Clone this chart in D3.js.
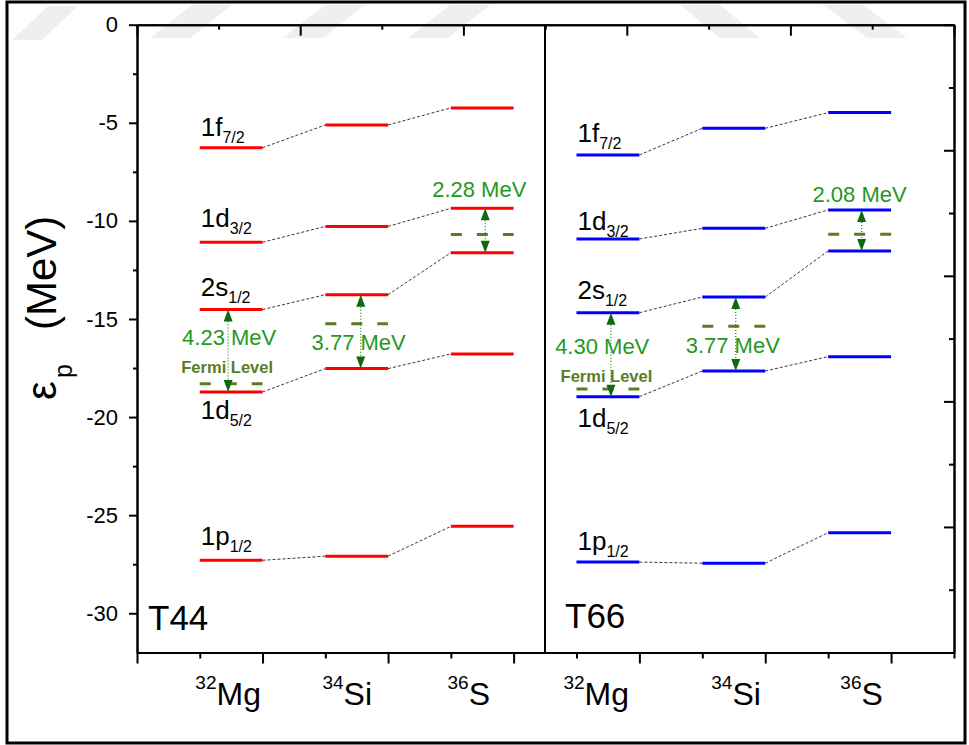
<!DOCTYPE html>
<html>
<head>
<meta charset="utf-8">
<script src="https://cdn.jsdelivr.net/npm/d3@7"></script>
<style>
  body { margin: 0; background: #fff; }
  svg { display: block; font-family: Arial, "Liberation Sans", sans-serif; }
</style>
</head>
<body>
<script>
// Data (MeV)
const massNumbers = [32, 34, 36];
const elements = ['Mg', 'Si', 'S'];
const orbitalNames = ['1f', '1d', '2s', '1d', '1p'];
const orbitalJ = ['7/2', '3/2', '1/2', '5/2', '1/2'];
const yTicks = [0, -5, -10, -15, -20, -25, -30];

// rows = orbitals, columns = nuclei
const t44Levels = [
  [-6.27, -5.11, -4.24],
  [-11.09, -10.28, -9.36],
  [-14.52, -13.76, -11.62],
  [-18.72, -17.53, -16.78],
  [-27.3, -27.09, -25.57],
];
const t44Fermi = [-18.3, -15.24, -10.7];
const t44Gaps = ['4.23', '3.77', '2.28'];

const t66Levels = [
  [-6.64, -5.28, -4.48],
  [-10.92, -10.38, -9.44],
  [-14.68, -13.88, -11.53],
  [-18.96, -17.65, -16.92],
  [-27.39, -27.45, -25.89],
];
const t66Fermi = [-18.57, -15.37, -10.68];
const t66Gaps = ['4.30', '3.77', '2.08'];

// Canvas
const width = 969;
const height = 745;
const svg = d3
  .select('body')
  .append('svg')
  .attr('width', width)
  .attr('height', height);

// faint watermark stripes at the top
const stripes = [
  [[48, 6], [78, 6], [42, 40], [12, 40]],
  [[192, 5], [232, 5], [190, 38], [150, 38]],
  [[325, 5], [365, 5], [323, 38], [283, 38]],
  [[450, 5], [490, 5], [448, 38], [408, 38]],
  [[680, 5], [720, 5], [760, 38], [720, 38]],
  [[823, 5], [863, 5], [907, 38], [867, 38]],
];
svg
  .append('g')
  .selectAll('polygon')
  .data(stripes)
  .enter()
  .append('polygon')
  .attr('points', (d) => d.map((p) => p.join(',')).join(' '))
  .attr('fill', '#efefef');

// outer frame
svg
  .append('rect')
  .attr('x', 7)
  .attr('y', 2)
  .attr('width', 958)
  .attr('height', 741)
  .attr('fill', 'none')
  .attr('stroke', '#000')
  .attr('stroke-width', 3);

const y = d3.scaleLinear().domain([0, -32]).range([24.7, 652.5]);

const panels = [
  {
    name: 'T44',
    levels: t44Levels,
    fermi: t44Fermi,
    gaps: t44Gaps,
    color: '#ff0000',
    x: d3.scaleLinear().domain([0, 6.5]).range([137, 545]),
    top: d3.scaleLinear().domain([0, 5]).range([137, 545]),
    bottomMajor: [0, 2, 4, 6],
    bottomMinor: [1, 3, 5],
    topMajor: [0, 2, 4],
    topMinor: [1, 3, 5],
    labelDy: [-12, -15, -14, 27, -15],
    nucleusDx: [-3, -9.5, -13.5],
    arrowDx: [-3, 4, 3],
    gapLabel: [
      { ref: 'mid', dx: -2, dy: -6 },
      { ref: 'mid', dx: 2, dy: 18 },
      { ref: 'top', dx: -3, dy: -11 },
    ],
    fermiLabel: { dx: -4, dy: -10.4 },
    nameX: 148,
    nameY: 630,
  },
  {
    name: 'T66',
    levels: t66Levels,
    fermi: t66Fermi,
    gaps: t66Gaps,
    color: '#0000ff',
    x: d3.scaleLinear().domain([0.5, 7]).range([545, 954]),
    top: d3.scaleLinear().domain([0, 5]).range([545, 954]),
    bottomMajor: [2, 4, 6],
    bottomMinor: [1, 3, 5, 7],
    topMajor: [1, 3, 5],
    topMinor: [0, 2, 4],
    labelDy: [-13, -9, -14, 30, -12],
    nucleusDx: [-11.7, 2.3, 2],
    arrowDx: [3, 2, 2],
    gapLabel: [
      { ref: 'mid', dx: -5.7, dy: -1 },
      { ref: 'mid', dx: -1, dy: 19 },
      { ref: 'top', dx: 0, dy: -8 },
    ],
    fermiLabel: { dx: -1.5, dy: -6.7 },
    nameX: 565,
    nameY: 628,
  },
];

const green = '#1f991f';
const darkGreen = '#0d6b0d';
const olive = '#5a7d23';

function drawPanel(p) {
  const g = svg.append('g');
  const x = p.x;
  const barStart = (i) => x(2 * i + 1);
  const barEnd = (i) => x(2 * i + 2);
  const barMid = (i) => (barStart(i) + barEnd(i)) / 2;

  // dashed connectors between the same orbital
  p.levels.forEach((row) => {
    g.append('g')
      .selectAll('line')
      .data(row.slice(0, -1))
      .enter()
      .append('line')
      .attr('x1', (d, i) => barEnd(i))
      .attr('y1', (d) => y(d))
      .attr('x2', (d, i) => barStart(i + 1))
      .attr('y2', (d, i) => y(row[i + 1]))
      .attr('stroke', '#222')
      .attr('stroke-width', 0.9)
      .attr('stroke-dasharray', '3,2');
  });

  // Fermi levels
  g.append('g')
    .selectAll('line')
    .data(p.fermi)
    .enter()
    .append('line')
    .attr('x1', (d, i) => barStart(i))
    .attr('x2', (d, i) => barEnd(i))
    .attr('y1', (d) => y(d))
    .attr('y2', (d) => y(d))
    .attr('stroke', olive)
    .attr('stroke-width', 3)
    .attr('stroke-dasharray', '11,15');

  // energy levels
  p.levels.forEach((row) => {
    g.append('g')
      .selectAll('line')
      .data(row)
      .enter()
      .append('line')
      .attr('x1', (d, i) => barStart(i))
      .attr('x2', (d, i) => barEnd(i))
      .attr('y1', (d) => y(d))
      .attr('y2', (d) => y(d))
      .attr('stroke', p.color)
      .attr('stroke-width', 3);
  });

  // gap arrows between levels around the Fermi level
  p.fermi.forEach((f, i) => {
    const col = p.levels.map((row) => row[i]);
    const upper = d3.min(col.filter((v) => v > f));
    const lower = d3.max(col.filter((v) => v < f));
    const ax = barMid(i) + p.arrowDx[i];
    const yu = y(upper);
    const yl = y(lower);
    const head = 12;
    const hw = 4.5;
    g.append('line')
      .attr('x1', ax)
      .attr('x2', ax)
      .attr('y1', yu + head)
      .attr('y2', yl - head)
      .attr('stroke', '#2a8a2a')
      .attr('stroke-width', 1.3)
      .attr('stroke-dasharray', '1,2');
    g.append('path')
      .attr('d', `M${ax},${yu}L${ax - hw},${yu + head}L${ax + hw},${yu + head}Z`)
      .attr('fill', darkGreen);
    g.append('path')
      .attr('d', `M${ax},${yl}L${ax - hw},${yl - head}L${ax + hw},${yl - head}Z`)
      .attr('fill', darkGreen);

    const gl = p.gapLabel[i];
    const ly = gl.ref === 'mid' ? (yu + yl) / 2 + gl.dy : yu + gl.dy;
    g.append('text')
      .attr('x', barMid(i) + gl.dx)
      .attr('y', ly)
      .attr('text-anchor', 'middle')
      .attr('font-size', 22)
      .attr('fill', green)
      .text(`${p.gaps[i]} MeV`);
  });

  // Fermi Level label (first nucleus only)
  g.append('text')
    .attr('x', barMid(0) + p.fermiLabel.dx)
    .attr('y', y(p.fermi[0]) + p.fermiLabel.dy)
    .attr('text-anchor', 'middle')
    .attr('font-size', 16.5)
    .attr('font-weight', 'bold')
    .attr('fill', olive)
    .text('Fermi Level');

  // orbital labels on the first nucleus
  const lab = g
    .append('g')
    .selectAll('text')
    .data(p.levels.map((row) => row[0]))
    .enter()
    .append('text')
    .attr('x', barStart(0) + 1)
    .attr('y', (d, k) => y(d) + p.labelDy[k])
    .attr('font-size', 26)
    .attr('fill', '#000');
  lab.append('tspan').text((d, k) => orbitalNames[k]);
  lab
    .append('tspan')
    .attr('font-size', 16)
    .attr('dy', 7)
    .text((d, k) => orbitalJ[k]);

  // panel name
  g.append('text')
    .attr('x', p.nameX)
    .attr('y', p.nameY)
    .attr('font-size', 35)
    .text(p.name);

  // axes
  const bottom = g.append('g').attr('transform', `translate(0,${y(-32)})`);
  bottom
    .append('g')
    .call(d3.axisBottom(x).tickValues(p.bottomMajor).tickSize(11).tickSizeOuter(0).tickFormat(''));
  bottom
    .append('g')
    .call(d3.axisBottom(x).tickValues(p.bottomMinor).tickSize(6).tickSizeOuter(0).tickFormat(''));

  const top = g.append('g').attr('transform', `translate(0,${y(0)})`);
  top
    .append('g')
    .call(d3.axisTop(p.top).tickValues(p.topMajor).tickSize(-11).tickSizeOuter(0).tickFormat(''));
  top
    .append('g')
    .call(d3.axisTop(p.top).tickValues(p.topMinor).tickSize(-5).tickSizeOuter(0).tickFormat(''));

  // nucleus labels
  const nl = g
    .append('g')
    .selectAll('text')
    .data(massNumbers)
    .enter()
    .append('text')
    .attr('x', (d, i) => barMid(i) + p.nucleusDx[i])
    .attr('y', 704.5)
    .attr('text-anchor', 'middle')
    .attr('font-size', 32);
  nl.append('tspan')
    .attr('font-size', 19)
    .attr('dy', -16)
    .text((d) => d);
  nl.append('tspan')
    .attr('dy', 16)
    .text((d, i) => elements[i]);
}

panels.forEach(drawPanel);

// left y axis
const yMinor = d3.range(-2.5, -32, -5);
svg
  .append('g')
  .attr('transform', 'translate(137,0)')
  .call(
    d3
      .axisLeft(y)
      .tickValues(yTicks)
      .tickSize(8)
      .tickSizeOuter(0)
      .tickPadding(11)
      .tickFormat((d) => String(d))
  )
  .call((a) => a.selectAll('text').attr('font-size', 22).attr('fill', '#000'));
svg
  .append('g')
  .attr('transform', 'translate(137,0)')
  .call(d3.axisLeft(y).tickValues(yMinor).tickSize(4).tickSizeOuter(0).tickFormat(''));

// right axis (own scale, inward ticks)
const yRight = d3.scaleLinear().domain([0, 5]).range([24.7, 652.5]);
svg
  .append('g')
  .attr('transform', 'translate(954,0)')
  .call(d3.axisRight(yRight).tickValues(d3.range(0, 6)).tickSize(-10).tickSizeOuter(0).tickFormat(''));
svg
  .append('g')
  .attr('transform', 'translate(954,0)')
  .call(d3.axisRight(yRight).tickValues(d3.range(0.5, 5, 1)).tickSize(-5).tickSizeOuter(0).tickFormat(''));

// divider between panels
svg
  .append('line')
  .attr('x1', 545)
  .attr('x2', 545)
  .attr('y1', y(0))
  .attr('y2', y(-32))
  .attr('stroke', '#000')
  .attr('stroke-width', 2);

svg.selectAll('.domain, .tick line').attr('stroke', '#000').attr('stroke-width', 2);

// y axis title
const title = svg
  .append('text')
  .attr('transform', 'translate(56,403) rotate(-90)')
  .attr('font-size', 42);
title.append('tspan').attr('x', 3).attr('font-size', 42).text('ε');
title.append('tspan').attr('x', 25).attr('font-size', 25).attr('dy', 16).text('p');
title.append('tspan').attr('x', 73).attr('dy', -16).text('(MeV)');
</script>
</body>
</html>
